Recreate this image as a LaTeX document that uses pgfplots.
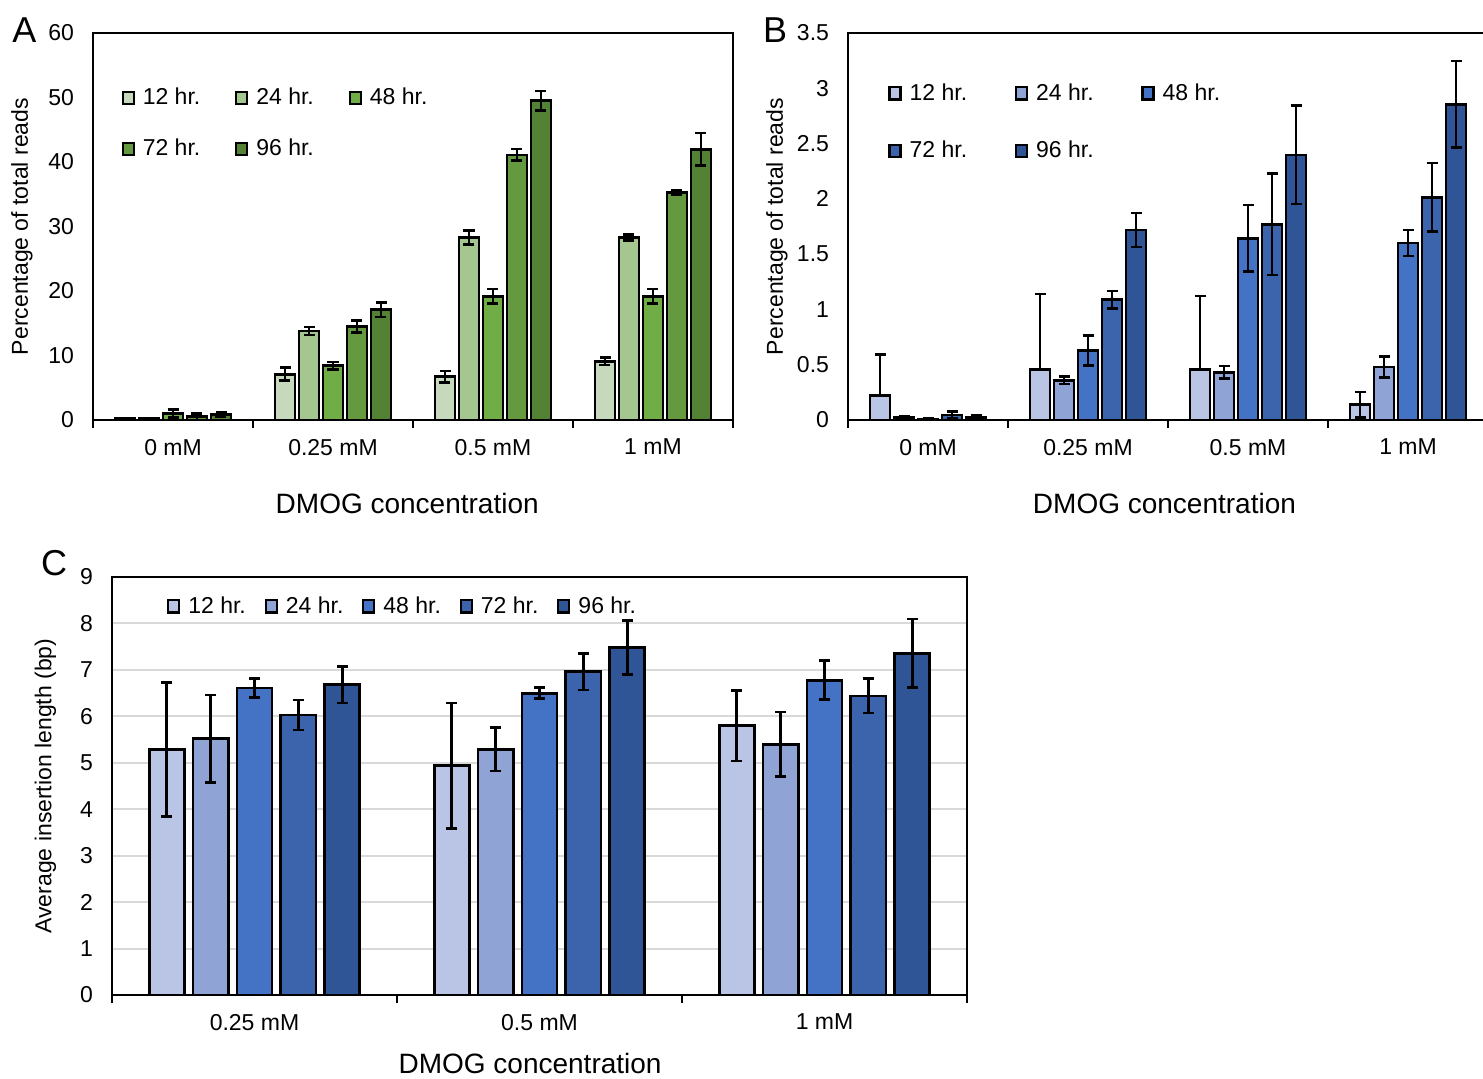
\documentclass[border=0pt]{standalone}
\usepackage{fontspec}
\setmainfont{Liberation Sans}
\usepackage{pgfplots}
\usepackage{pgfplotstable}
\pgfplotsset{compat=1.18}

\definecolor{gA}{HTML}{C6D9BC}
\definecolor{gB}{HTML}{A4C68F}
\definecolor{gC}{HTML}{70AD47}
\definecolor{gD}{HTML}{64993F}
\definecolor{gE}{HTML}{548235}
\definecolor{bA}{HTML}{BAC4E4}
\definecolor{bB}{HTML}{8FA3D5}
\definecolor{bC}{HTML}{4472C4}
\definecolor{bD}{HTML}{3B64AD}
\definecolor{bE}{HTML}{2F5597}

% Panel A
\pgfplotstableread{
x y ep em
0 0.2 0.05 0.05
1 7.1 1.0 1.0
2 6.7 0.9 0.9
3 9.1 0.6 0.6
}\AA
\pgfplotstableread{
x y ep em
0 0.2 0.05 0.05
1 13.8 0.6 0.6
2 28.3 1.1 1.1
3 28.3 0.5 0.5
}\AB
\pgfplotstableread{
x y ep em
0 1.0 0.6 0.6
1 8.4 0.6 0.6
2 19.2 1.1 1.1
3 19.2 1.1 1.1
}\AC
\pgfplotstableread{
x y ep em
0 0.5 0.5 0.5
1 14.5 0.9 0.9
2 41.1 0.9 0.9
3 35.3 0.3 0.3
}\AD
\pgfplotstableread{
x y ep em
0 0.9 0.35 0.35
1 17.1 1.1 1.1
2 49.5 1.5 1.5
3 42.0 2.5 2.5
}\AE

% Panel B
\pgfplotstableread{
x y ep em
0 0.22 0.37 0
1 0.46 0.68 0
2 0.46 0.66 0
3 0.14 0.115 0.115
}\BA
\pgfplotstableread{
x y ep em
0 0.02 0.015 0.015
1 0.36 0.035 0.035
2 0.43 0.057 0.057
3 0.48 0.094 0.094
}\BB
\pgfplotstableread{
x y ep em
0 0.01 0.005 0.005
1 0.63 0.137 0.137
2 1.645 0.3 0.3
3 1.6 0.118 0.118
}\BC
\pgfplotstableread{
x y ep em
0 0.045 0.03 0.03
1 1.088 0.08 0.08
2 1.77 0.46 0.46
3 2.015 0.31 0.31
}\BD
\pgfplotstableread{
x y ep em
0 0.02 0.025 0.025
1 1.718 0.155 0.155
2 2.397 0.445 0.445
3 2.857 0.39 0.39
}\BE

% Panel C
\pgfplotstableread{
x y ep em
0 5.29 1.44 1.44
1 4.94 1.35 1.35
2 5.80 0.76 0.76
}\CA
\pgfplotstableread{
x y ep em
0 5.52 0.94 0.94
1 5.29 0.47 0.47
2 5.40 0.69 0.69
}\CB
\pgfplotstableread{
x y ep em
0 6.61 0.21 0.21
1 6.50 0.12 0.12
2 6.78 0.42 0.42
}\CC
\pgfplotstableread{
x y ep em
0 6.03 0.32 0.32
1 6.96 0.39 0.39
2 6.44 0.37 0.37
}\CD
\pgfplotstableread{
x y ep em
0 6.68 0.39 0.39
1 7.48 0.58 0.58
2 7.36 0.74 0.74
}\CE

\newcommand{\tfont}{\fontsize{11.5}{13.8}\selectfont}

\pgfplotsset{
  panel/.style={
    scale only axis, ybar, ymin=0,
    axis line style={line width=1pt},
    tick pos=left, tick align=outside,
    ytick style={draw=none},
    xtick style={draw=black, line width=1pt},
    major tick length=4pt,
    xticklabels={},
    extra x tick style={major tick length=0pt, xticklabel style={yshift=-6pt}},
    yticklabel style={xshift=-2pt, /pgf/number format/fixed},
    ticklabel style={font=\tfont},
    /pgf/number format/assume math mode=true,
    label style={font=\tfont},
    every axis plot post/.append style={draw=black, line width=1.4pt},
    error bars/y dir=both, error bars/y explicit,
    error bars/error bar style={line width=1.3pt, black, solid},
    error bars/error mark options={line width=1.3pt, black, mark size=2.75pt, rotate=90},
    legend image code/.code={\draw[##1, draw=black, line width=1.1pt] (0pt,-3.1pt) rectangle (5.5pt,3.1pt);},
    legend style={draw=none, fill=none, inner sep=0pt, font=\tfont,
      /tikz/every odd column/.append style={column sep=2pt}},
    legend cell align=left,
  }
}

\begin{document}
\begin{tikzpicture}
\useasboundingbox (0,0) rectangle (741.5pt,-539pt);

% ---------- Panel A ----------
\begin{axis}[panel, at={(46.5pt,-210pt)}, anchor=south west,
  width=320pt, height=193.5pt,
  xmin=-0.5, xmax=3.5, ymax=60, ytick={0,10,...,60},
  xtick={-0.5,0.5,1.5,2.5,3.5},
  extra x ticks={0,1,2,3}, extra x tick labels={0 mM,0.25 mM,0.5 mM,1 mM},
  bar width=0.125,
  xlabel={DMOG concentration}, ylabel={Percentage of total reads},
  xlabel style={at={(axis description cs:0.491,-0.2145)}, anchor=center, font=\fontsize{14}{16}\selectfont},
  ylabel style={at={(axis description cs:-0.111,0.5)}, anchor=center},
  legend columns=3,
  legend style={at={(axis description cs:0.044,0.869)}, anchor=north west, row sep=11.6pt,
    /tikz/every even column/.append style={column sep=15.4pt}},
]
\addplot[fill=gA, bar shift=-0.3] table[x=x,y=y,y error plus=ep,y error minus=em] {\AA};
\addlegendentry{12 hr.}
\addplot[fill=gB, bar shift=-0.15] table[x=x,y=y,y error plus=ep,y error minus=em] {\AB};
\addlegendentry{24 hr.}
\addplot[fill=gC, bar shift=0] table[x=x,y=y,y error plus=ep,y error minus=em] {\AC};
\addlegendentry{48 hr.}
\addplot[fill=gD, bar shift=0.15] table[x=x,y=y,y error plus=ep,y error minus=em] {\AD};
\addlegendentry{72 hr.}
\addplot[fill=gE, bar shift=0.3] table[x=x,y=y,y error plus=ep,y error minus=em] {\AE};
\addlegendentry{96 hr.}
\end{axis}

% ---------- Panel B ----------
\begin{axis}[panel, at={(424pt,-210pt)}, anchor=south west,
  width=320pt, height=193.5pt,
  xmin=-0.5, xmax=3.5, ymax=3.5, ytick={0,0.5,...,3.5},
  xtick={-0.5,0.5,1.5,2.5,3.5},
  extra x ticks={0,1,2,3}, extra x tick labels={0 mM,0.25 mM,0.5 mM,1 mM},
  bar width=0.125,
  xlabel={DMOG concentration}, ylabel={Percentage of total reads},
  xlabel style={at={(axis description cs:0.4945,-0.2145)}, anchor=center, font=\fontsize{14}{16}\selectfont},
  ylabel style={at={(axis description cs:-0.111,0.5)}, anchor=center},
  legend columns=3,
  legend style={at={(axis description cs:0.0625,0.881)}, anchor=north west, row sep=15.1pt,
    /tikz/every even column/.append style={column sep=21.9pt}},
]
\addplot[fill=bA, bar shift=-0.3] table[x=x,y=y,y error plus=ep,y error minus=em] {\BA};
\addlegendentry{12 hr.}
\addplot[fill=bB, bar shift=-0.15] table[x=x,y=y,y error plus=ep,y error minus=em] {\BB};
\addlegendentry{24 hr.}
\addplot[fill=bC, bar shift=0] table[x=x,y=y,y error plus=ep,y error minus=em] {\BC};
\addlegendentry{48 hr.}
\addplot[fill=bD, bar shift=0.15] table[x=x,y=y,y error plus=ep,y error minus=em] {\BD};
\addlegendentry{72 hr.}
\addplot[fill=bE, bar shift=0.3] table[x=x,y=y,y error plus=ep,y error minus=em] {\BE};
\addlegendentry{96 hr.}
\end{axis}

% ---------- Panel C ----------
\begin{axis}[panel, at={(56pt,-497.5pt)}, anchor=south west,
  width=427.5pt, height=209pt,
  xmin=-0.5, xmax=2.5, ymax=9, ytick={0,1,...,9},
  ymajorgrids, major grid style={line width=1pt, draw=black!15},
  xtick={-0.5,0.5,1.5,2.5},
  extra x ticks={0,1,2}, extra x tick labels={0.25 mM,0.5 mM,1 mM},
  bar width=0.123,
  xlabel={DMOG concentration}, ylabel={Average insertion length (bp)},
  xlabel style={at={(axis description cs:0.489,-0.163)}, anchor=center, font=\fontsize{14}{16}\selectfont},
  ylabel style={at={(axis description cs:-0.078,0.5)}, anchor=center},
  legend columns=5,
  legend style={at={(axis description cs:0.064,0.964)}, anchor=north west,
    /tikz/every even column/.append style={column sep=7.4pt}},
]
\addplot[fill=bA, bar shift=-0.308] table[x=x,y=y,y error plus=ep,y error minus=em] {\CA};
\addlegendentry{12 hr.}
\addplot[fill=bB, bar shift=-0.154] table[x=x,y=y,y error plus=ep,y error minus=em] {\CB};
\addlegendentry{24 hr.}
\addplot[fill=bC, bar shift=0] table[x=x,y=y,y error plus=ep,y error minus=em] {\CC};
\addlegendentry{48 hr.}
\addplot[fill=bD, bar shift=0.154] table[x=x,y=y,y error plus=ep,y error minus=em] {\CD};
\addlegendentry{72 hr.}
\addplot[fill=bE, bar shift=0.308] table[x=x,y=y,y error plus=ep,y error minus=em] {\CE};
\addlegendentry{96 hr.}
\end{axis}

\node[font=\fontsize{18}{20}\selectfont] at (12.25pt,-15pt) {A};
\node[font=\fontsize{18}{20}\selectfont] at (387.5pt,-15pt) {B};
\node[font=\fontsize{18}{20}\selectfont] at (27pt,-281.5pt) {C};
\end{tikzpicture}
\end{document}
